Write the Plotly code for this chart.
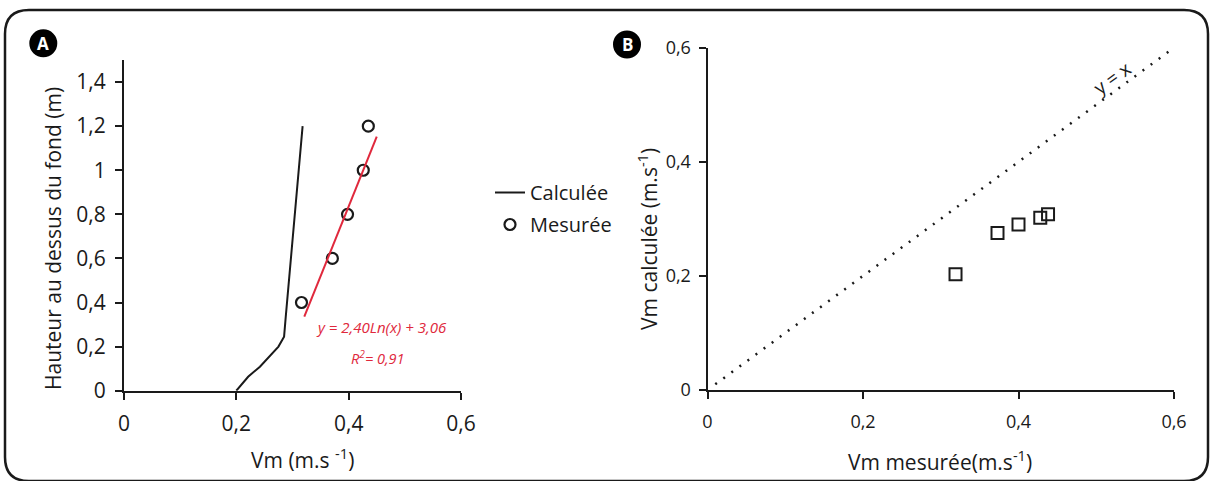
import plotly.graph_objects as go

W, H = 1211, 481
FONT = "Open Sans"
INK = "#1a1a1a"
RED = "#e0283c"

# Panel A data
calc_x = [0.200, 0.221, 0.242, 0.275, 0.285, 0.288, 0.318]
calc_y = [0.0, 0.063, 0.109, 0.200, 0.245, 0.336, 1.20]
meas_x = [0.316, 0.371, 0.398, 0.426, 0.435]
meas_y = [0.4, 0.6, 0.8, 1.0, 1.2]
fit_x = [0.321, 0.450]
fit_y = [0.336, 1.152]
a_xticks = [0, 0.2, 0.4, 0.6]
a_xtext = ["0", "0,2", "0,4", "0,6"]
a_yticks = [0, 0.2, 0.4, 0.6, 0.8, 1.0, 1.2, 1.4]
a_ytext = ["0", "0,2", "0,4", "0,6", "0,8", "1", "1,2", "1,4"]

# Panel B data
vm_mesuree = [0.319, 0.373, 0.400, 0.428, 0.438]
vm_calculee = [0.203, 0.275, 0.290, 0.302, 0.308]
identity = [0.01, 0.6]
b_ticks = [0, 0.2, 0.4, 0.6]
b_text = ["0", "0,2", "0,4", "0,6"]


def px(x):
    return x / W


def py(y):
    return 1 - y / H


fig = go.Figure()

fig.add_trace(go.Scatter(x=calc_x, y=calc_y, mode="lines", name="Calculée",
                         line=dict(color=INK, width=2), xaxis="x", yaxis="y",
                         legendgroup="c"))
fig.add_trace(go.Scatter(x=meas_x, y=meas_y, mode="markers", name="Mesurée",
                         marker=dict(symbol="circle-open", size=11, color=INK,
                                     line=dict(width=2.2)),
                         xaxis="x", yaxis="y", legendgroup="m"))
fig.add_trace(go.Scatter(x=fit_x, y=fit_y, mode="lines", showlegend=False,
                         line=dict(color=RED, width=2), xaxis="x", yaxis="y"))

fig.add_trace(go.Scatter(x=identity, y=identity, mode="lines", showlegend=False,
                         line=dict(color=INK, width=2.5, dash="2px,8px"),
                         xaxis="x2", yaxis="y2"))
fig.add_trace(go.Scatter(x=vm_mesuree, y=vm_calculee, mode="markers", showlegend=False,
                         marker=dict(symbol="square-open", size=12, color=INK,
                                     line=dict(width=2)),
                         xaxis="x2", yaxis="y2"))

axis_common = dict(showgrid=False, zeroline=False, showline=True, linecolor=INK,
                   linewidth=2, ticks="outside", tickcolor=INK, tickwidth=2,
                   ticklen=7, fixedrange=True, automargin=False)

fig.update_layout(
    template="none",
    width=W, height=H,
    margin=dict(l=0, r=0, t=0, b=0, autoexpand=False),
    paper_bgcolor="white", plot_bgcolor="rgba(0,0,0,0)",
    font=dict(family=FONT, color=INK),
    showlegend=True,
    legend=dict(x=px(490), y=py(173), xanchor="left", yanchor="top",
                font=dict(size=20, family=FONT, color=INK),
                bgcolor="rgba(0,0,0,0)", tracegroupgap=3, itemwidth=30),
    xaxis=dict(axis_common, domain=[px(124), px(461)], range=[0, 0.6],
               tickvals=a_xticks, ticktext=a_xtext, anchor="y",
               tickfont=dict(size=21), ticklabelstandoff=6),
    yaxis=dict(axis_common, domain=[py(390.7), py(60)], range=[0, 1.5],
               tickvals=a_yticks, ticktext=a_ytext, anchor="x",
               tickfont=dict(size=21), ticklabelstandoff=5),
    xaxis2=dict(axis_common, domain=[px(707.5), px(1174)], range=[0, 0.6],
                tickvals=b_ticks, ticktext=b_text, anchor="y2",
                tickfont=dict(size=18), ticklabelstandoff=7),
    yaxis2=dict(axis_common, domain=[py(390), py(47.7)], range=[0, 0.6],
                tickvals=b_ticks, ticktext=b_text, anchor="x2",
                tickfont=dict(size=18), ticklabelstandoff=4),
)


def note(x, y, text, size, color=INK, angle=0):
    fig.add_annotation(x=px(x), y=py(y), xref="paper", yref="paper", text=text,
                       showarrow=False, xanchor="center", yanchor="middle",
                       textangle=angle, font=dict(size=size, color=color, family=FONT))


# axis titles
note(53, 239, "Hauteur au dessus du fond (m)", 21, angle=-90)
note(302, 458, "Vm (m.s <sup>-1</sup>)", 21)
note(647, 239, "Vm calculée (m.s<sup>-1</sup>)", 21, angle=-90)
note(940, 460, "Vm mesurée(m.s<sup>-1</sup>)", 21)

# rounded frame
x0, x1, y0, y1, r = 5, 1208, 10, 481, 24
rx, ry = r / W, r / H
X0, X1, Y0, Y1 = px(x0), px(x1), py(y0), py(y1)
path = (f"M {X0+rx} {Y0} L {X1-rx} {Y0} Q {X1} {Y0} {X1} {Y0-ry} "
        f"L {X1} {Y1+ry} Q {X1} {Y1} {X1-rx} {Y1} "
        f"L {X0+rx} {Y1} Q {X0} {Y1} {X0} {Y1+ry} "
        f"L {X0} {Y0-ry} Q {X0} {Y0} {X0+rx} {Y0} Z")
fig.add_shape(type="path", xref="paper", yref="paper", path=path, layer="below",
              line=dict(color=INK, width=2.5), fillcolor="rgba(0,0,0,0)")

# badges
for cx, cy, letter in [(43.3, 43.3, "A"), (627, 44.5, "B")]:
    fig.add_shape(type="circle", xref="paper", yref="paper", layer="below",
                  x0=px(cx - 14), x1=px(cx + 14), y0=py(cy + 14), y1=py(cy - 14),
                  fillcolor="black", line=dict(color="black", width=0))
    note(cx, cy, f"<b>{letter}</b>", 17, color="white")

# fit text
note(381, 327, "<i>y = 2,40Ln(x) + 3,06</i>", 15, color=RED)
note(378, 357, "<i>R<sup>2</sup>= 0,91</i>", 14.5, color=RED)

# y = x label
note(1112, 78, "y = x", 19, angle=-36)

fig.write_html("out.html", config={"displayModeBar": False},
               post_script="document.body.style.margin='0';")
